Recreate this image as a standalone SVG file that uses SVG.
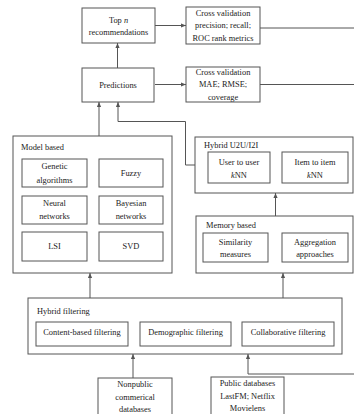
<svg xmlns="http://www.w3.org/2000/svg" width="354" height="414" viewBox="0 0 354 414">
<style>
rect{fill:#fff;stroke:#555;stroke-width:1}
text{font-family:"Liberation Serif","Times New Roman",serif;font-size:8.4px;fill:#222}
.c{text-anchor:middle}
.l{fill:none;stroke:#555;stroke-width:1}
.a{fill:none;stroke:#555;stroke-width:1;marker-end:url(#ar)}
</style>
<defs>
<marker id="ar" viewBox="0 0 6 6" refX="6" refY="3" markerWidth="5" markerHeight="5" orient="auto" markerUnits="userSpaceOnUse">
<path d="M0,0.5 L6,3 L0,5.5 Z" fill="#555"/>
</marker>
</defs>
<rect width="354" height="414" style="fill:#fff;stroke:none"/>
<g id="connectors">
<path class="a" d="M155,25.5 H186"/>
<path class="a" d="M155,84.5 H186"/>
<path class="l" d="M260,28 H354"/>
<path class="l" d="M260,84.5 H354"/>
<path class="a" d="M117.5,68 V43"/>
<path class="a" d="M99,136 V102"/>
<path class="a" d="M185.5,165 V121.5 H118 V102"/>
<path class="l" d="M185.5,165 H195"/>
<path class="a" d="M275.5,216 V193"/>
<path class="a" d="M90,298 V273"/>
<path class="a" d="M283,298 V273"/>
<path class="a" d="M133,378 V354"/>
<path class="a" d="M354,374 H248 V354"/>
</g>
<g id="topn"><rect x="82" y="8" width="73" height="35"/><text class="c" x="118.5" y="23">Top <tspan font-style="italic">n</tspan></text><text class="c" x="118.5" y="35">recommendations</text></g>
<g id="cv1"><rect x="186" y="7" width="74" height="37"/><text class="c" x="223" y="15.5">Cross validation</text><text class="c" x="223" y="28">precision; recall;</text><text class="c" x="223" y="40.5">ROC rank metrics</text></g>
<g id="predictions"><rect x="82" y="68" width="72" height="34"/><text class="c" x="118" y="87.5">Predictions</text></g>
<g id="cv2"><rect x="186" y="67" width="74" height="35"/><text class="c" x="223" y="74.5">Cross validation</text><text class="c" x="223" y="87">MAE; RMSE;</text><text class="c" x="223" y="100">coverage</text></g>
<g id="model"><rect x="13" y="136" width="159" height="137"/><text x="21" y="150">Model based</text>
<rect x="22" y="159" width="65" height="28"/><text class="c" x="54.5" y="169">Genetic</text><text class="c" x="54.5" y="182.5">algorithms</text>
<rect x="99" y="159" width="64" height="28"/><text class="c" x="131" y="175.5">Fuzzy</text>
<rect x="22" y="196" width="65" height="28"/><text class="c" x="54.5" y="205.5">Neural</text><text class="c" x="54.5" y="219">networks</text>
<rect x="99" y="196" width="64" height="28"/><text class="c" x="131" y="205.5">Bayesian</text><text class="c" x="131" y="219">networks</text>
<rect x="22" y="232" width="65" height="29"/><text class="c" x="54.5" y="248.5">LSI</text>
<rect x="99" y="232" width="64" height="29"/><text class="c" x="131" y="248.5">SVD</text></g>
<g id="hybrid-u2u"><rect x="195" y="137" width="158" height="56"/><text x="204" y="148">Hybrid U2U/I2I</text>
<rect x="208" y="152" width="62" height="31"/><text class="c" x="239" y="164.5">User to user</text><text class="c" x="239" y="178"><tspan font-style="italic">k</tspan>NN</text>
<rect x="282" y="152" width="66" height="31"/><text class="c" x="315" y="164.5">Item to item</text><text class="c" x="315" y="178"><tspan font-style="italic">k</tspan>NN</text></g>
<g id="memory"><rect x="196" y="216" width="157" height="57"/><text x="206" y="228">Memory based</text>
<rect x="203" y="233" width="65" height="29"/><text class="c" x="235.5" y="244.5">Similarity</text><text class="c" x="235.5" y="257">measures</text>
<rect x="282" y="233" width="66" height="29"/><text class="c" x="315" y="244.5">Aggregation</text><text class="c" x="315" y="257">approaches</text></g>
<g id="hybrid-filtering"><rect x="28" y="298" width="314" height="56"/><text x="37" y="314">Hybrid filtering</text>
<rect x="36" y="322" width="92" height="24"/><text class="c" x="82" y="335">Content-based filtering</text>
<rect x="140" y="322" width="91" height="24"/><text class="c" x="185.5" y="335">Demographic filtering</text>
<rect x="242" y="322" width="92" height="24"/><text class="c" x="288" y="335">Collaborative filtering</text></g>
<g id="nonpublic"><rect x="98" y="378" width="74" height="40"/><text class="c" x="135" y="387">Nonpublic</text><text class="c" x="135" y="400">commerical</text><text class="c" x="135" y="412">databases</text></g>
<g id="public"><rect x="211" y="377" width="73" height="41"/><text class="c" x="247.5" y="385.5">Public databases</text><text class="c" x="247.5" y="399">LastFM; Netflix</text><text class="c" x="247.5" y="411">Movielens</text></g>
</svg>
